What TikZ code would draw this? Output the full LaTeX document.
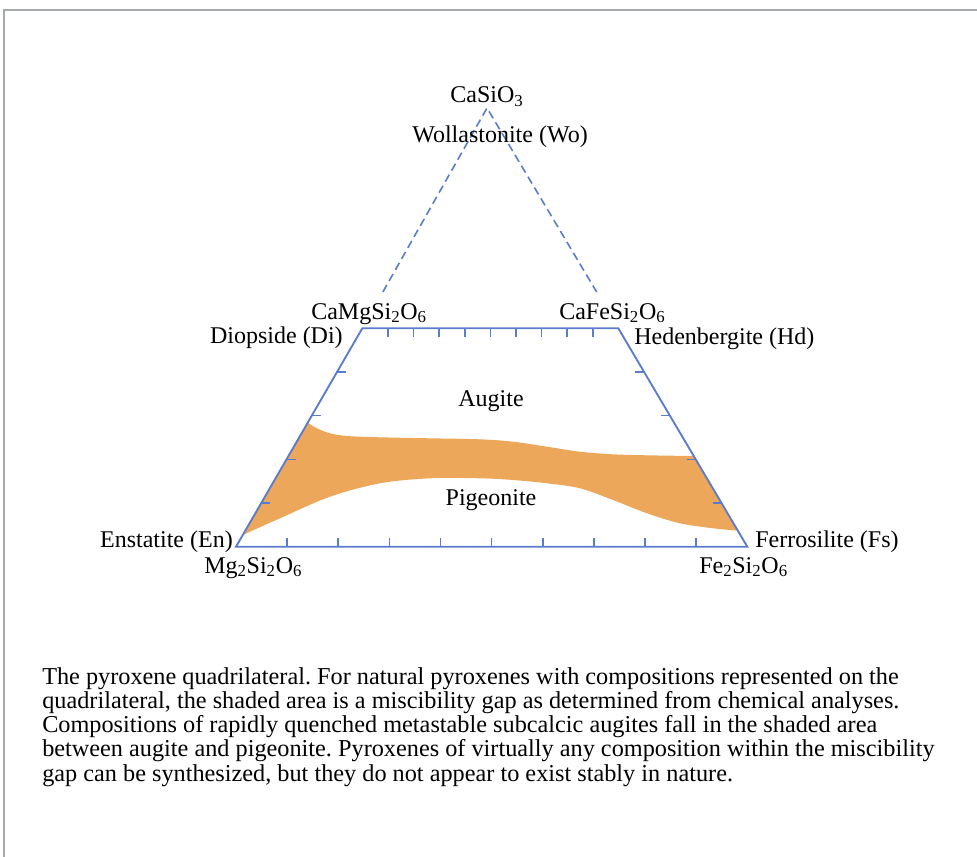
\documentclass[tikz,border=0pt]{standalone}
\usepackage{fontspec}
\setmainfont{Liberation Serif}
\usetikzlibrary{calc}
\definecolor{qblue}{RGB}{91,124,205}
\definecolor{gapfill}{RGB}{236,167,90}
\definecolor{framegray}{RGB}{165,168,176}
\begin{document}
\frenchspacing
\begin{tikzpicture}[x=0.75pt,y=-0.75pt,
  edge/.style={draw=qblue, line width=1.4pt, line join=miter},
  tickmark/.style={draw=qblue, line width=1.2pt},
  dashedge/.style={draw=qblue, line width=1.2pt, dash pattern=on 6pt off 3.5pt},
  lbl/.style={font=\fontsize{18}{21}\selectfont, inner sep=0pt},
  captionline/.style={font=\fontsize{18.2}{21}\selectfont, inner sep=0pt, anchor=base west}]
\useasboundingbox (0,0) rectangle (977,856);
% frame
\draw[framegray, line width=1.5pt] (4,870) -- (4,10) -- (990,10);
% corners
\coordinate (En) at (236,546.7);
\coordinate (Fs) at (747.3,546.7);
\coordinate (Di) at (362.3,328.3);
\coordinate (Hd) at (618.3,328.3);
\coordinate (Wo) at (487,108);
% miscibility gap
\fill[gapfill] plot[smooth, tension=0.55] coordinates {(307.7,422.7) (317,428.3) (330,433.3) (347,436) (380,437.3) (430,438.3) (480,439.3) (513,441.7) (547,446.7) (580,451.7) (613,454.3) (647,455.3) (693.7,456)}
  -- plot[smooth, tension=0.55] coordinates {(737.8,530.7) (713,528.3) (680,523.3) (647,513.3) (613,500) (580,488.3) (547,483.3) (513,480) (480,478.3) (430,478.3) (380,483.3) (330,496.7) (280,518.3) (242.8,535)}
  -- (En) -- cycle;
% dashed apex
\draw[dashedge] ($(Wo)!0.835!(Di)$) -- (Wo) -- ($(Wo)!0.835!(Hd)$);
% quadrilateral
\draw[edge] (En) -- (Di) -- (Hd) -- (Fs) -- cycle;
% ticks
\foreach \k in {1,...,9} {
  \draw[tickmark] ($(En)!\k/10!(Fs)$) -- ++(0,-9);
  \draw[tickmark] ($(Di)!\k/10!(Hd)$) -- ++(0,9);
}
\foreach \k in {1,...,4} {
  \draw[tickmark] ($(En)!\k/5!(Di)$) -- ++(9,0);
  \draw[tickmark] ($(Fs)!\k/5!(Hd)$) -- ++(-9,0);
}
% labels
\node[lbl, anchor=base] (casio) at (487,103) {CaSiO\textsubscript{3}};
\node[lbl, anchor=base] (wol) at (500,142) {Wollastonite (Wo)};
\node[lbl, anchor=base west] (camg) at (311,319.5) {CaMgSi\textsubscript{2}O\textsubscript{6}};
\node[lbl, anchor=base east] (diop) at (343,343) {Diopside (Di)};
\node[lbl, anchor=base west] (cafe) at (559,319.5) {CaFeSi\textsubscript{2}O\textsubscript{6}};
\node[lbl, anchor=base west] (hed) at (634,344) {Hedenbergite (Hd)};
\node[lbl, anchor=base] (aug) at (491,406) {Augite};
\node[lbl, anchor=base] (pig) at (491,505) {Pigeonite};
\node[lbl, anchor=base east] (ens) at (233,547) {Enstatite (En)};
\node[lbl, anchor=base west] (mg) at (204,573) {Mg\textsubscript{2}Si\textsubscript{2}O\textsubscript{6}};
\node[lbl, anchor=base west] (fer) at (755,547) {Ferrosilite (Fs)};
\node[lbl, anchor=base west] (fe) at (699,573) {Fe\textsubscript{2}Si\textsubscript{2}O\textsubscript{6}};
% caption
\node[captionline] (c1) at (42,684) {The pyroxene quadrilateral. For natural pyroxenes with compositions represented on the};
\node[captionline] (c2) at (42,708.25) {quadrilateral, the shaded area is a miscibility gap as determined from chemical analyses.};
\node[captionline] (c3) at (42,732.5) {Compositions of rapidly quenched metastable subcalcic augites fall in the shaded area};
\node[captionline] (c4) at (42,756.75) {between augite and pigeonite. Pyroxenes of virtually any composition within the miscibility};
\node[captionline] (c5) at (42,781) {gap can be synthesized, but they do not appear to exist stably in nature.};
\end{tikzpicture}
\end{document}
